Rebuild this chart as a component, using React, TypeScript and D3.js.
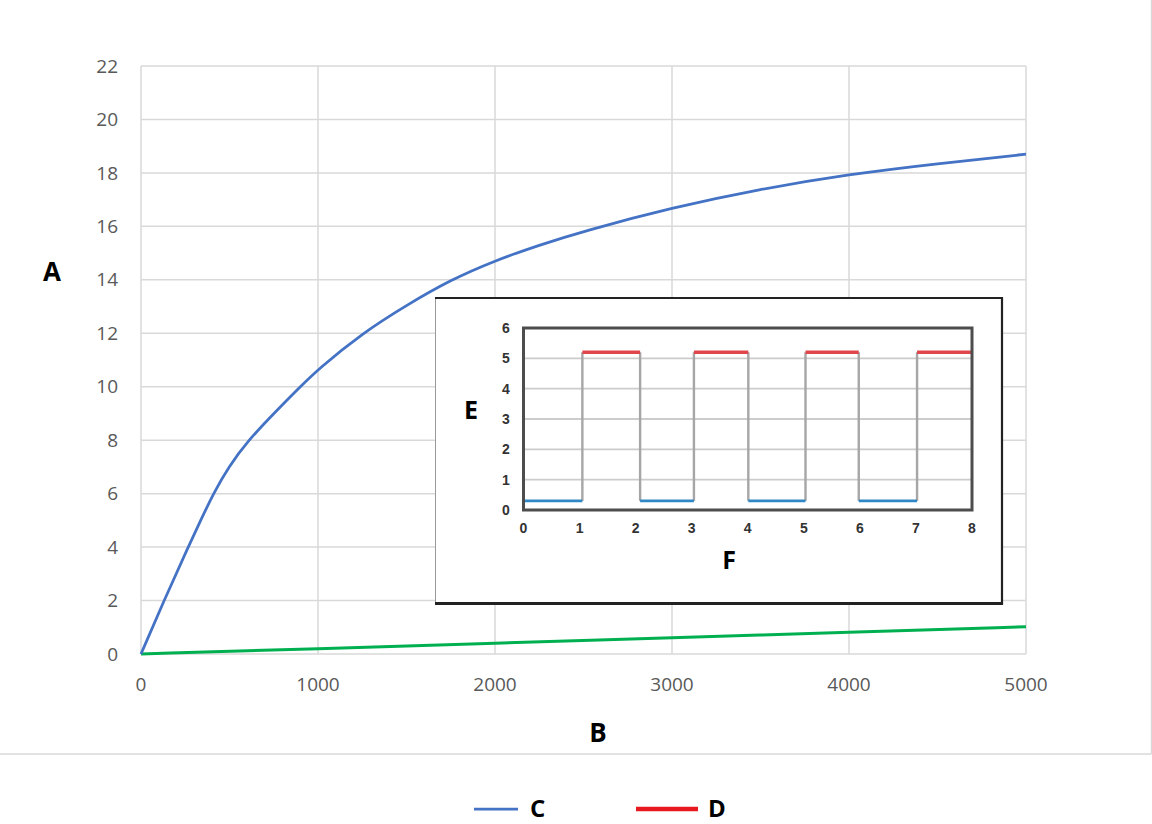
import * as React from "react";
import * as d3 from "d3";

// main chart series
const cX = [0, 130, 270, 337, 409, 494, 607, 750, 900, 1000, 1250, 1500, 1750, 2000, 2250, 2500, 3000, 3500, 4000, 4500, 5000];
const cY = [0, 2, 4.05, 5, 6, 7, 8, 9, 10, 10.65, 12.0, 13.05, 14.0, 14.72, 15.3, 15.82, 16.7, 17.4, 17.95, 18.35, 18.7];
const greenX = [0, 1000, 2000, 3000, 4000, 5000];
const greenY = [0, 0.2, 0.4, 0.61, 0.81, 1.02];
const xTicks = [0, 1000, 2000, 3000, 4000, 5000];
const yTicks = [0, 2, 4, 6, 8, 10, 12, 14, 16, 18, 20, 22];

// inset square wave
const insetEdges = [0, 1.05, 2.08, 3.04, 4.01, 5.03, 5.98, 7.02, 8];
const insetStates = ["low", "high", "low", "high", "low", "high", "low", "high"];
const lowLevel = 0.3;
const highLevel = 5.2;
const insetXTicks = [0, 1, 2, 3, 4, 5, 6, 7, 8];
const insetYTicks = [0, 1, 2, 3, 4, 5, 6];

const W = 1152;
const H = 824;
const tickFont = "'Open Sans', 'Liberation Sans', sans-serif";

export default function App() {
  const x = d3.scaleLinear().domain([0, 5000]).range([141, 1026]);
  const y = d3.scaleLinear().domain([0, 22]).range([654, 66]);

  const line = d3
    .line<[number, number]>()
    .x((d) => x(d[0]))
    .y((d) => y(d[1]))
    .curve(d3.curveBasis);

  const cPts = cX.map((v, i) => [v, cY[i]] as [number, number]);
  const gPts = greenX.map((v, i) => [v, greenY[i]] as [number, number]);

  // inset scales
  const ix = d3.scaleLinear().domain([0, 8]).range([523.5, 972]);
  const iy = d3.scaleLinear().domain([0, 6]).range([510, 328]);
  const lvl = (s: string) => (s === "high" ? highLevel : lowLevel);

  return (
    <svg
      width={W}
      height={H}
      style={{ position: "absolute", left: 0, top: 0, background: "#fff" }}
    >
      {/* chart area border */}
      <line x1={0} x2={1151.5} y1={754} y2={754} stroke="#d9d9d9" strokeWidth={1.5} />
      <line x1={1151.5} x2={1151.5} y1={0} y2={754} stroke="#d9d9d9" strokeWidth={1.5} />

      {/* grid */}
      {yTicks.map((t) => (
        <line key={"gy" + t} x1={x(0)} x2={x(5000)} y1={y(t)} y2={y(t)} stroke="#d9d9d9" strokeWidth={1.5} />
      ))}
      {xTicks.map((t) => (
        <line key={"gx" + t} x1={x(t)} x2={x(t)} y1={y(0)} y2={y(22)} stroke="#d9d9d9" strokeWidth={1.5} />
      ))}

      {/* tick labels */}
      {yTicks.map((t) => (
        <text key={"ty" + t} x={118} y={y(t)} dy="0.35em" textAnchor="end" fontFamily={tickFont} fontSize={19} fill="#595959">
          {t}
        </text>
      ))}
      {xTicks.map((t) => (
        <text key={"tx" + t} x={x(t)} y={684} dy="0.35em" textAnchor="middle" fontFamily={tickFont} fontSize={19} fill="#595959">
          {t}
        </text>
      ))}

      {/* series */}
      <path d={line(gPts) ?? ""} fill="none" stroke="#00b050" strokeWidth={3} />
      <path d={line(cPts) ?? ""} fill="none" stroke="#4472c4" strokeWidth={2.75} />

      {/* axis titles */}
      <text x={52} y={272} dy="0.35em" textAnchor="middle" fontFamily={tickFont} fontWeight="bold" fontSize={26} fill="#000">
        A
      </text>
      <text x={598} y={733} dy="0.35em" textAnchor="middle" fontFamily={tickFont} fontWeight="bold" fontSize={26} fill="#000">
        B
      </text>

      {/* legend */}
      <line x1={474} x2={518} y1={809} y2={809} stroke="#4472c4" strokeWidth={2.75} />
      <text x={530} y={817} fontFamily={tickFont} fontWeight="bold" fontSize={24} fill="#000">
        C
      </text>
      <line x1={636} x2={698} y1={809} y2={809} stroke="#e8191e" strokeWidth={4.5} />
      <text x={708} y={817} fontFamily={tickFont} fontWeight="bold" fontSize={24} fill="#000">
        D
      </text>

      {/* inset */}
      <g>
        <rect x={435.5} y={298} width={566.5} height={305.5} fill="#fff" stroke="none" />
        <line x1={435.5} x2={435.5} y1={298} y2={604} stroke="#9a9a9a" strokeWidth={1} />
        <line x1={435} x2={1003} y1={298} y2={298} stroke="#222" strokeWidth={2.2} />
        <line x1={1002} x2={1002} y1={297} y2={605} stroke="#222" strokeWidth={2.2} />
        <line x1={435} x2={1003} y1={603.5} y2={603.5} stroke="#222" strokeWidth={2.8} />

        {insetYTicks.slice(1, -1).map((t) => (
          <line key={"igy" + t} x1={ix(0)} x2={ix(8)} y1={iy(t)} y2={iy(t)} stroke="#cccccc" strokeWidth={1.8} />
        ))}

        {/* transitions */}
        {insetEdges.slice(1, -1).map((e, i) => (
          <line
            key={"iv" + i}
            x1={ix(e)}
            x2={ix(e)}
            y1={iy(lowLevel)}
            y2={iy(highLevel)}
            stroke="#a6a6a6"
            strokeWidth={2.4}
          />
        ))}
        {insetStates.map((s, i) => (
          <line
            key={"is" + i}
            x1={ix(insetEdges[i])}
            x2={ix(insetEdges[i + 1])}
            y1={iy(lvl(s))}
            y2={iy(lvl(s))}
            stroke={s === "high" ? "#e0474c" : "#2f87c6"}
            strokeWidth={s === "high" ? 3.5 : 2.8}
          />
        ))}

        <rect x={ix(0)} y={iy(6)} width={ix(8) - ix(0)} height={iy(0) - iy(6)} fill="none" stroke="#4d4d4d" strokeWidth={3} />

        {insetYTicks.map((t) => (
          <text key={"ity" + t} x={506} y={iy(t)} dy="0.35em" textAnchor="middle" fontFamily="'Liberation Sans', Arial, sans-serif" fontWeight="bold" fontSize={14} fill="#333">
            {t}
          </text>
        ))}
        {insetXTicks.map((t) => (
          <text key={"itx" + t} x={ix(t)} y={528} dy="0.35em" textAnchor="middle" fontFamily="'Liberation Sans', Arial, sans-serif" fontWeight="bold" fontSize={14} fill="#333">
            {t}
          </text>
        ))}
        <text x={471} y={410} dy="0.35em" textAnchor="middle" fontFamily={tickFont} fontWeight="bold" fontSize={25} fill="#000">
          E
        </text>
        <text x={729} y={560} dy="0.35em" textAnchor="middle" fontFamily={tickFont} fontWeight="bold" fontSize={25} fill="#000">
          F
        </text>
      </g>
    </svg>
  );
}
